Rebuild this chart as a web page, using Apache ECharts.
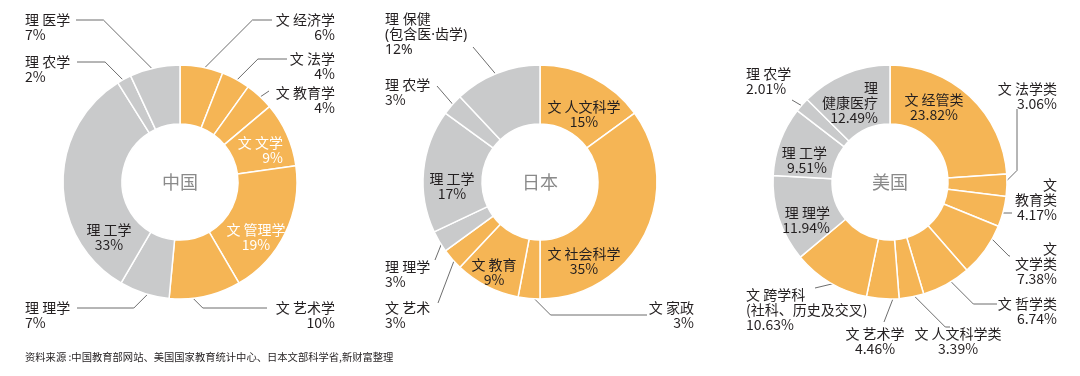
<!DOCTYPE html>
<html><head><meta charset="utf-8">
<script src="https://cdn.jsdelivr.net/npm/echarts@6/dist/echarts.min.js"></script>
<style>html,body{margin:0;padding:0;background:#fff}#c{width:1080px;height:376px}</style>
</head><body><div id="c"></div>
<script>
// ---- data ----
const cnNames = ['文 经济学','文 法学','文 教育学','文 文学','文 管理学','文 艺术学','理 理学','理 工学','理 农学','理 医学'];
const cnValues = [6,4,4,9,19,10,7,33,2,7];
const jpNames = ['文 人文科学','文 社会科学','文 家政','文 教育','文 艺术','理 理学','理 工学','理 农学','理 保健\n(包含医·齿学)'];
const jpValues = [15,35,3,9,3,3,17,3,12];
const usNames = ['文 经管类','文 法学类','文\n教育类','文\n文学类','文 哲学类','文 人文科学类','文 艺术学','文 跨学科\n(社科、历史及交叉)','理 理学','理 工学','理 农学','理\n健康医疗'];
const usValues = [23.82,3.06,4.17,7.38,6.74,3.39,4.46,10.63,11.94,9.51,2.01,12.49];
const centerTitles = ['中国','日本','美国'];
const sourceNote = '资料来源 :中国教育部网站、美国国家教育统计中心、日本文部科学省,新财富整理';

// ---- layout / style ----
const FONT = '"Noto Sans CJK SC", "Noto Sans", sans-serif';
const FONT_LATIN_FIRST = '"Noto Sans", "Noto Sans CJK SC", sans-serif';
const ORANGE = '#F5B555', GREY = '#C9CACB', TEXT = '#231F20';
const CENTERS = [[180,182],[540,182],[890,182]];
const RADIUS = [58,117];
const cnLabels = [
 {a:'right', x:335, y:27, e:[272,20]},
 {a:'right', x:335, y:66, e:[287,59]},
 {a:'right', x:335, y:100, e:[269,91], m:'d'},
 {a:'right', x:283, y:150, c:'#fff', inside:true},
 {a:'center', x:256, y:237, c:'#fff', inside:true},
 {a:'right', x:335, y:315, e:[267,308], da:8},
 {a:'left', x:25, y:315, e:[77,308], da:-3},
 {a:'center', x:109, y:237, inside:true},
 {a:'left', x:25, y:69, e:[77,62]},
 {a:'left', x:25, y:27, e:[76,20]}
];
const jpLabels = [
 {a:'center', x:584, y:114, inside:true},
 {a:'center', x:584, y:261, inside:true},
 {a:'right', x:694, y:315, e:[647,315]},
 {a:'center', x:494, y:272, inside:true},
 {a:'left', x:385, y:315, e:[438,303], m:'d'},
 {a:'left', x:385, y:274, e:[435,260], m:'d'},
 {a:'center', x:452, y:186, inside:true},
 {a:'left', x:385, y:92, e:[437,86], m:'d'},
 {a:'left', x:385, y:35, e:[473,47], m:'d', f:FONT_LATIN_FIRST}
];
const usLabels = [
 {a:'center', x:934, y:107, inside:true},
 {a:'right', x:1057, y:96, e:[1017,109]},
 {a:'right', x:1057, y:200, e:[1012,213]},
 {a:'right', x:1057, y:264, e:[1010,256], da:-7},
 {a:'right', x:1057, y:311, e:[997,304], da:-2},
 {a:'center', x:958, y:341, e:[950,327]},
 {a:'center', x:875, y:341, e:[884,322], da:-6, m:'d'},
 {a:'left', x:746, y:310, e:[815,288], da:-4, m:'d'},
 {a:'right', x:830, y:220, inside:true},
 {a:'right', x:827, y:160, inside:true},
 {a:'left', x:746, y:81, e:[792,100], m:'d'},
 {a:'right', x:878, y:103, inside:true}
];

function leader(raw, c, L) {
  const ang = Math.atan2(raw[0]-c[0], -(raw[1]-c[1])) + (L.da||0)*Math.PI/180;
  const r = Math.hypot(raw[0]-c[0], raw[1]-c[1]) * 0.96;
  const p0 = [c[0] + r*Math.sin(ang), c[1] - r*Math.cos(ang)];
  const E = L.e;
  if (L.m === 'd') return [p0, E];
  const dx = E[0]-p0[0], dy = E[1]-p0[1];
  let mid;
  if (Math.abs(dx) >= Math.abs(dy)) mid = [p0[0] + Math.sign(dx)*Math.abs(dy), E[1]];
  else mid = [E[0], p0[1] + Math.sign(dy)*Math.abs(dx)];
  return [p0, mid, E];
}

function makeSeries(names, values, labels, center) {
  return {
    type:'pie', center: center, radius: RADIUS, startAngle: 90, clockwise: true,
    avoidLabelOverlap: false, minShowLabelAngle: 0, silent: true, animation: false,
    itemStyle: {borderColor:'#fff', borderWidth:1.5},
    label: {show:true, position:'outside', overflow:'none', fontFamily: FONT, fontSize:14, lineHeight:15, color: TEXT,
            formatter: p => p.name + '\n' + p.value + '%'},
    labelLine: {show:true, length:10, length2:10, lineStyle:{color:'#474747', width:0.8}},
    data: names.map((n,i) => {
      const L = labels[i];
      const lab = L.inside ? {position:'inside', color: L.c || TEXT} : {};
      if (L.f) lab.fontFamily = L.f;
      return {
        name: n, value: values[i],
        itemStyle: {color: n.charAt(0) === '文' ? ORANGE : GREY},
        label: lab,
        labelLine: {show: !L.inside}
      };
    }),
    labelLayout: function (p) {
      const L = labels[p.dataIndex];
      const out = {x: L.x, y: L.y, align: L.a, verticalAlign: 'middle'};
      if (!L.inside && p.labelLinePoints) out.labelLinePoints = leader(p.labelLinePoints[0], center, L);
      return out;
    }
  };
}

const chart = echarts.init(document.getElementById('c'), null, {renderer:'canvas'});
chart.setOption({
  backgroundColor: '#fff',
  animation: false,
  title: centerTitles.map((t,i) => ({
    text: t, left: CENTERS[i][0], top: CENTERS[i][1], textAlign:'center', textVerticalAlign:'middle', padding:0,
    textStyle: {fontSize:18, fontWeight:'normal', color:'#8A8A8A', fontFamily: FONT}
  })).concat([{
    text: sourceNote, left: 25, top: 352, padding: 0,
    textStyle: {fontSize:10.3, fontWeight:'normal', color: TEXT, fontFamily: FONT}
  }]),
  series: [
    makeSeries(cnNames, cnValues, cnLabels, CENTERS[0]),
    makeSeries(jpNames, jpValues, jpLabels, CENTERS[1]),
    makeSeries(usNames, usValues, usLabels, CENTERS[2])
  ]
});
</script></body></html>
